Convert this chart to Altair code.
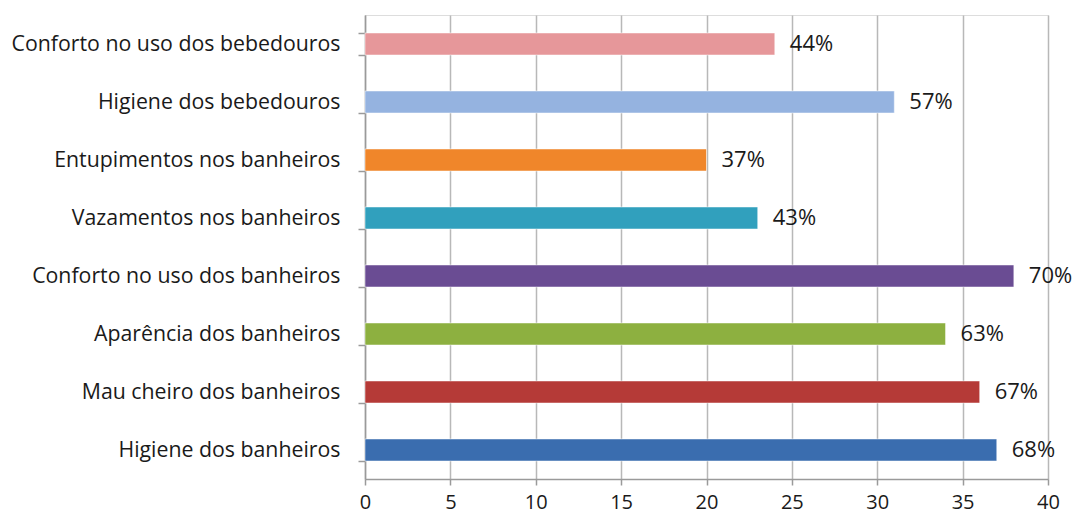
import altair as alt
import pandas as pd

categories = [
    "Conforto no uso dos bebedouros",
    "Higiene dos bebedouros",
    "Entupimentos nos banheiros",
    "Vazamentos nos banheiros",
    "Conforto no uso dos banheiros",
    "Aparência dos banheiros",
    "Mau cheiro dos banheiros",
    "Higiene dos banheiros",
]
values = [24, 31, 20, 23, 38, 34, 36, 37]
percent_labels = ["44%", "57%", "37%", "43%", "70%", "63%", "67%", "68%"]
colors = ["#E6979A", "#95B3E0", "#F0862A", "#31A0BD", "#6A4C93", "#8DB040", "#B53A37", "#3A6DAF"]

df = pd.DataFrame({"cat": categories, "val": values, "lab": percent_labels})

FONT = "Open Sans"

y_enc = alt.Y(
    "cat:N",
    sort=categories,
    title=None,
    scale=alt.Scale(paddingInner=0.62, paddingOuter=0.31),
    axis=alt.Axis(
        tickBand="extent",
        labelFontSize=21.3,
        labelFont=FONT,
        labelColor="#1a1a1a",
        labelPadding=18,
        labelLimit=400,
        domainColor="#9a9a9a",
        tickColor="#9a9a9a",
        tickSize=7,
        domainWidth=1.5,
        tickWidth=1.5,
        grid=False,
    ),
)

x_enc = alt.X(
    "val:Q",
    title=None,
    scale=alt.Scale(domain=[0, 40], nice=False),
    axis=alt.Axis(
        values=[0, 5, 10, 15, 20, 25, 30, 35, 40],
        labelFontSize=20,
        labelFont=FONT,
        labelColor="#1a1a1a",
        labelPadding=7,
        labelFlush=False,
        labelOverlap=False,
        domainColor="#9a9a9a",
        tickColor="#9a9a9a",
        tickSize=6,
        domainWidth=1.5,
        tickWidth=1.5,
        grid=True,
        gridColor="#b8b8b8",
        gridWidth=1.5,
    ),
)

bars = alt.Chart(df).mark_bar(strokeWidth=1, strokeOpacity=0.5, stroke="white").encode(
    y=y_enc,
    x=x_enc,
    color=alt.Color("cat:N", scale=alt.Scale(domain=categories, range=colors), legend=None),
)

text = alt.Chart(df).mark_text(
    align="left", baseline="middle", dx=15, fontSize=22, font=FONT, color="#1a1a1a"
).encode(
    y=alt.Y("cat:N", sort=categories),
    x="val:Q",
    text="lab:N",
)

chart = (
    alt.layer(bars, text)
    .properties(
        width=683,
        height=464,
        autosize=alt.AutoSizeParams(type="none"),
        padding={"left": 365, "top": 15, "right": 25, "bottom": 39},
    )
    .configure_view(stroke=None)
    .configure(background="white")
)

chart.save("out.html", embed_options={"renderer": "svg", "actions": False})
